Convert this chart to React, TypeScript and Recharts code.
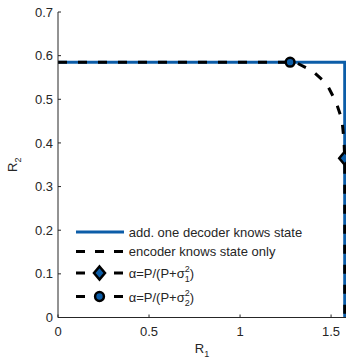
import React from 'react';
import { ComposedChart, Line, XAxis, YAxis } from 'recharts';

const FONT = '"Liberation Sans", Arial, Helvetica, sans-serif';
const BLUE = '#0C5DA8';
const INK = '#262626';

// Tick labels
const xTicks = [0, 0.5, 1, 1.5];
const yTicks = [0, 0.1, 0.2, 0.3, 0.4, 0.5, 0.6, 0.7];

// Series: "add. one decoder knows state"
const blueX = [0, 1.575, 1.575];
const blueY = [0.585, 0.585, 0];

// Series: "encoder knows state only"
const blackX = [0, 1.275, 1.313, 1.398, 1.475, 1.527, 1.56, 1.571, 1.575, 1.575];
const blackY = [0.585, 0.585, 0.583, 0.565, 0.536, 0.494, 0.453, 0.405, 0.365, 0];

// Markers
const diamondX = [1.575];
const diamondY = [0.365];
const circleX = [1.275];
const circleY = [0.585];

const toPts = (xs: number[], ys: number[]) => xs.map((x, i) => ({ x, y: ys[i] }));

const bluePts = toPts(blueX, blueY);
const blackPts = toPts(blackX, blackY);
const diamondPts = toPts(diamondX, diamondY);
const circlePts = toPts(circleX, circleY);

const Diamond = (props: any) => {
  const { cx, cy } = props;
  if (cx == null || cy == null) return null;
  return (
    <path
      d={`M${cx},${cy - 6.5} L${cx + 5.5},${cy} L${cx},${cy + 6.5} L${cx - 5.5},${cy} Z`}
      fill={BLUE}
      stroke="#000"
      strokeWidth={2.5}
      strokeLinejoin="miter"
    />
  );
};

const Circle = (props: any) => {
  const { cx, cy } = props;
  if (cx == null || cy == null) return null;
  return <circle cx={cx} cy={cy} r={4.4} fill={BLUE} stroke="#000" strokeWidth={2.5} />;
};

const XLabel = (props: any) => {
  const vb = props.viewBox || {};
  const cx = vb.x + vb.width / 2;
  return (
    <text x={cx} y={352.5} textAnchor="middle" fontFamily={FONT} fontSize={13} fill={INK}>
      R<tspan fontSize={9} dy={4.5}>1</tspan>
    </text>
  );
};

const YLabel = (props: any) => {
  const vb = props.viewBox || {};
  const cy = vb.y + vb.height / 2;
  const cx = 16.7;
  return (
    <text
      x={cx}
      y={cy}
      textAnchor="middle"
      fontFamily={FONT}
      fontSize={13}
      fill={INK}
      transform={`rotate(-90, ${cx}, ${cy})`}
    >
      R<tspan fontSize={9} dy={4.5}>2</tspan>
    </text>
  );
};

const legendLabels = ['add. one decoder knows state', 'encoder knows state only'];
const legendSub = ['1', '2'];

const Legend = () => {
  const x0 = 76;
  const x1 = 124;
  const tx = 128.7;
  const dash = '9 10';
  return (
    <svg
      width={346}
      height={359}
      style={{ position: 'absolute', left: 0, top: 0, pointerEvents: 'none' }}
    >
      <g fontFamily={FONT} fontSize={13} fill={INK}>
        <line x1={x0} x2={x1} y1={232} y2={232} stroke={BLUE} strokeWidth={3} />
        <text x={tx} y={236.7}>{legendLabels[0]}</text>

        <line x1={x0} x2={x1} y1={251.5} y2={251.5} stroke="#000" strokeWidth={3} strokeDasharray={dash} />
        <text x={tx} y={256}>{legendLabels[1]}</text>

        <line x1={x0} x2={x1} y1={273} y2={273} stroke="#000" strokeWidth={3} strokeDasharray={dash} />
        <Diamond cx={99.5} cy={273} />
        <text x={tx} y={277.7}>
          α=P/(P+σ
          <tspan fontSize={9} dy={-6}>2</tspan>
          <tspan fontSize={9} dx={-5} dy={10.5}>{legendSub[0]}</tspan>
          <tspan dy={-4.5}>)</tspan>
        </text>

        <line x1={x0} x2={x1} y1={296.5} y2={296.5} stroke="#000" strokeWidth={3} strokeDasharray={dash} />
        <Circle cx={99.5} cy={296.5} />
        <text x={tx} y={301.5}>
          α=P/(P+σ
          <tspan fontSize={9} dy={-6}>2</tspan>
          <tspan fontSize={9} dx={-5} dy={10.5}>{legendSub[1]}</tspan>
          <tspan dy={-4.5}>)</tspan>
        </text>
      </g>
    </svg>
  );
};

export default function App() {
  return (
    <div style={{ position: 'absolute', left: 0, top: 0, width: 346, height: 359, background: '#fff' }}>
      <ComposedChart width={346} height={359} margin={{ top: 12, right: 0, bottom: 0, left: 0 }}>
        <XAxis
          type="number"
          dataKey="x"
          domain={[0, 1.582]}
          allowDataOverflow
          ticks={xTicks}
          interval={0}
          height={41.5}
          tickSize={-3}
          tickMargin={12}
          axisLine={{ stroke: INK, strokeWidth: 1 }}
          tickLine={{ stroke: INK, strokeWidth: 1 }}
          tick={{ fill: INK, fontSize: 13, fontFamily: FONT }}
          label={XLabel}
        />
        <YAxis
          type="number"
          domain={[0, 0.7]}
          allowDataOverflow
          ticks={yTicks}
          interval={0}
          width={58}
          tickSize={-3}
          tickMargin={8}
          axisLine={{ stroke: INK, strokeWidth: 1 }}
          tickLine={{ stroke: INK, strokeWidth: 1 }}
          tick={{ fill: INK, fontSize: 13, fontFamily: FONT }}
          label={YLabel}
        />
        <Line
          data={bluePts}
          dataKey="y"
          stroke={BLUE}
          strokeWidth={3}
          dot={false}
          activeDot={false}
          isAnimationActive={false}
          type="linear"
        />
        <Line
          data={blackPts}
          dataKey="y"
          stroke="#000"
          strokeWidth={3}
          strokeDasharray="9 11"
          dot={false}
          activeDot={false}
          isAnimationActive={false}
          type="linear"
        />
        <Line
          data={diamondPts}
          dataKey="y"
          stroke="none"
          dot={<Diamond />}
          activeDot={false}
          isAnimationActive={false}
        />
        <Line
          data={circlePts}
          dataKey="y"
          stroke="none"
          dot={<Circle />}
          activeDot={false}
          isAnimationActive={false}
        />
      </ComposedChart>
      <Legend />
    </div>
  );
}
